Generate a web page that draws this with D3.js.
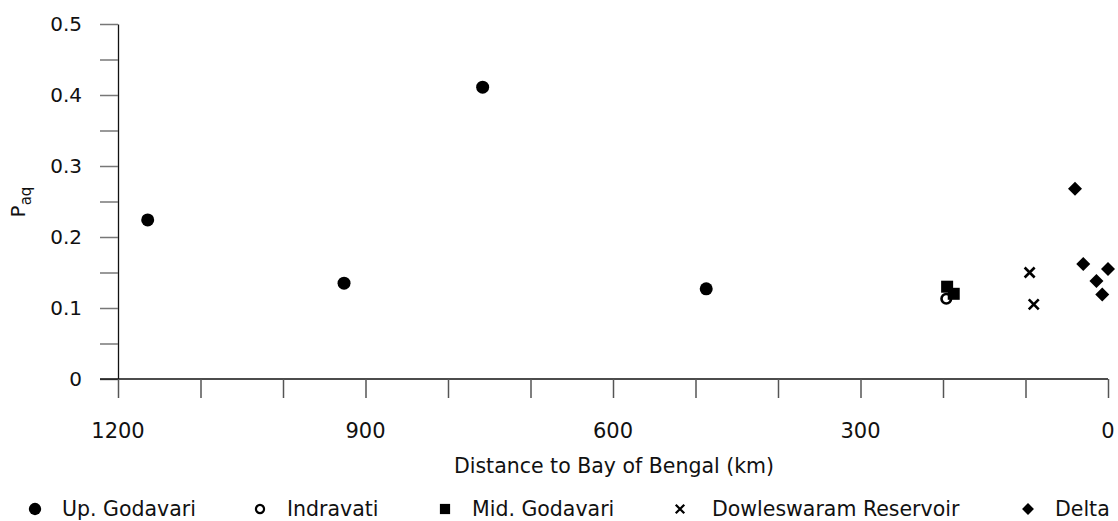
<!DOCTYPE html>
<html>
<head>
<meta charset="utf-8">
<script src="https://cdn.jsdelivr.net/npm/d3@7"></script>
<style>
  body { margin: 0; background: #fff; }
  text { font-family: "DejaVu Sans", sans-serif; fill: #111; }
</style>
</head>
<body>
<div id="chart"></div>
<script>
// data
var seriesNames = ["Up. Godavari", "Indravati", "Mid. Godavari", "Dowleswaram Reservoir", "Delta"];
var upGodavari = [[1164, 0.224], [926, 0.135], [758, 0.411], [487, 0.127]];
var indravati = [[196, 0.113]];
var midGodavari = [[195, 0.130], [187, 0.120]];
var dowleswaram = [[95, 0.150], [90, 0.105]];
var delta = [[40, 0.268], [30, 0.162], [0, 0.155], [14, 0.138], [7, 0.119]];
var xTicks = [1200, 900, 600, 300, 0];
var yTicks = [0, 0.1, 0.2, 0.3, 0.4, 0.5];

var width = 1118, height = 521;
var margin = {left: 118, right: 10, top: 24, bottom: 142};

var svg = d3.select('#chart')
  .append('svg')
  .attr('width', width)
  .attr('height', height)

var x = d3.scaleLinear().domain([1200, 0]).range([margin.left, 1108])
var y = d3.scaleLinear().domain([0, 0.5]).range([height - margin.bottom, margin.top])

// y axis
var yAxis = svg.append('g')
  .attr('transform', 'translate(' + margin.left + ',0)')
  .call(d3.axisLeft(y).tickValues(d3.range(0, 0.5001, 0.05)).tickSize(18).tickSizeOuter(0).tickFormat(''))
yAxis.select('.domain').attr('stroke', '#111').attr('stroke-width', 1.3)
yAxis.selectAll('.tick line').attr('stroke', '#777').attr('stroke-width', 1.5)

svg.append('g').selectAll('text')
  .data(yTicks)
  .join('text')
  .attr('x', 82)
  .attr('y', d => y(d))
  .attr('dy', '0.36em')
  .attr('text-anchor', 'end')
  .style('font-size', '20px')
  .text(d => d === 0 ? '0' : d3.format('.1f')(d))

// x axis
var xAxis = svg.append('g')
  .attr('transform', 'translate(0,' + y(0) + ')')
  .call(d3.axisBottom(x).tickValues(d3.range(0, 1201, 100)).tickSize(19).tickSizeOuter(0).tickFormat(''))
xAxis.select('.domain').attr('stroke', '#111').attr('stroke-width', 1.3)
  .attr('d', 'M' + (margin.left - 18) + ',0H' + x(0))
xAxis.selectAll('.tick line').attr('stroke', '#555').attr('stroke-width', 1.5)

svg.append('g').selectAll('text')
  .data(xTicks)
  .join('text')
  .attr('x', d => x(d))
  .attr('y', 438)
  .attr('text-anchor', 'middle')
  .style('font-size', '21px')
  .text(d => d)

svg.append('text')
  .attr('x', 614)
  .attr('y', 473)
  .attr('text-anchor', 'middle')
  .style('font-size', '20.5px')
  .text('Distance to Bay of Bengal (km)')

// y label P_aq
var ylab = svg.append('text')
  .attr('transform', 'translate(25,202) rotate(-90)')
  .attr('text-anchor', 'middle')
  .style('font-size', '20px')
ylab.append('tspan').text('P')
ylab.append('tspan').attr('dy', 6).style('font-size', '15px').text('aq')

// markers
function drawMarker(g, type) {
  if (type === 'dot') g.append('circle').attr('r', 6.5).attr('fill', '#000')
  if (type === 'ring') g.append('circle').attr('r', 4.8).attr('fill', 'none').attr('stroke', '#000').attr('stroke-width', 2.6)
  if (type === 'square') g.append('rect').attr('x', -6).attr('y', -6).attr('width', 12).attr('height', 12).attr('fill', '#000')
  if (type === 'cross') g.append('path').attr('d', 'M-5,-5L5,5M-5,5L5,-5').attr('stroke', '#000').attr('stroke-width', 2.6)
  if (type === 'diamond') g.append('path').attr('d', 'M0,-7L7,0L0,7L-7,0Z').attr('fill', '#000')
}

var series = [
  {name: seriesNames[0], type: 'dot', values: upGodavari},
  {name: seriesNames[1], type: 'ring', values: indravati},
  {name: seriesNames[2], type: 'square', values: midGodavari},
  {name: seriesNames[3], type: 'cross', values: dowleswaram},
  {name: seriesNames[4], type: 'diamond', values: delta}
]

series.forEach(function (s) {
  svg.append('g').selectAll('g')
    .data(s.values)
    .join('g')
    .attr('transform', d => 'translate(' + x(d[0]) + ',' + y(d[1]) + ')')
    .each(function () { drawMarker(d3.select(this), s.type) })
})

// legend
var legendX = [35, 260, 445, 680, 1028];
var legend = svg.append('g').selectAll('g')
  .data(series)
  .join('g')
  .attr('transform', (d, i) => 'translate(' + legendX[i] + ',509)')
legend.each(function (d) {
  var g = d3.select(this)
  var m = g.append('g').attr('transform', d.type === 'dot' ? 'scale(0.95)' : 'scale(0.85)')
  drawMarker(m, d.type)
  g.append('text')
    .attr('x', d.type === 'cross' ? 32 : 27)
    .attr('dy', '0.36em')
    .style('font-size', '20.5px')
    .text(d.name)
})
</script>
</body>
</html>
